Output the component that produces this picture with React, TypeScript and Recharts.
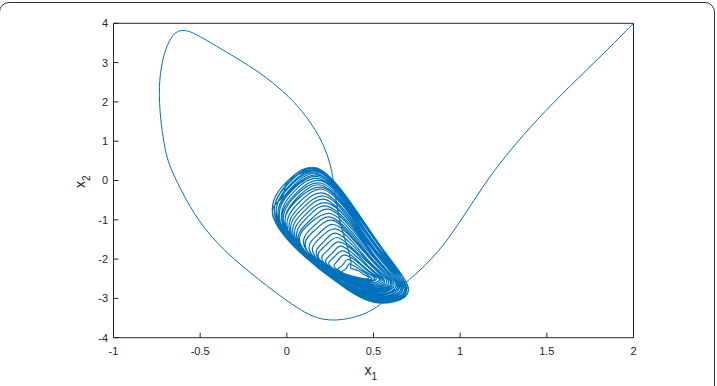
import { LineChart, Line, XAxis, YAxis } from 'recharts';

type Pt = [number, number];

// transient: from the (2, 4) corner, under the attractor and round the big loop
const approach: Pt[] = [
  [2.0, 4.0], [1.83, 3.24], [1.63, 2.39], [1.44, 1.54], [1.29, 0.78], [1.17, 0.1],
  [1.08, -0.5], [0.98, -1.18], [0.87, -1.85], [0.73, -2.45], [0.63, -2.79], [0.54, -3.17],
  [0.46, -3.38], [0.37, -3.51], [0.27, -3.57], [0.17, -3.51], [0.08, -3.3], [-0.02, -3.0],
  [-0.21, -2.36], [-0.41, -1.6], [-0.54, -0.83], [-0.62, -0.16], [-0.67, 0.3], [-0.7, 0.69],
  [-0.73, 1.54], [-0.74, 2.39], [-0.72, 3.07], [-0.68, 3.58], [-0.635, 3.81], [-0.59, 3.83],
  [-0.53, 3.75], [-0.37, 3.32], [-0.17, 2.81], [0.02, 2.13], [0.13, 1.54], [0.21, 0.95],
  [0.25, 0.44], [0.265, 0.1], [0.28, -0.4],
];

// the drop through the attractor down to its focus
const entry: Pt[] = [[0.28, -0.4], [0.31, -1.1], [0.35, -1.7], [0.37, -2.1]];

// flat loops round the focus, widening outwards
const innerLoops: Pt[][] = [
  [[0.37, -2.23], [0.41, -2.29], [0.44, -2.38], [0.47, -2.45], [0.47, -2.49], [0.45, -2.5], [0.4, -2.46], [0.32, -2.34], [0.34, -2.25]],
  [[0.36, -2.12], [0.4, -2.21], [0.45, -2.35], [0.48, -2.45], [0.49, -2.51], [0.45, -2.53], [0.39, -2.47], [0.3, -2.29], [0.32, -2.16]],
  [[0.35, -2.01], [0.4, -2.13], [0.45, -2.31], [0.5, -2.45], [0.5, -2.53], [0.46, -2.56], [0.38, -2.48], [0.28, -2.23], [0.29, -2.06]],
  [[0.33, -1.9], [0.4, -2.05], [0.46, -2.28], [0.51, -2.45], [0.51, -2.54], [0.47, -2.58], [0.38, -2.48], [0.25, -2.18], [0.27, -1.96]],
  [[0.32, -1.79], [0.39, -1.97], [0.46, -2.25], [0.52, -2.45], [0.53, -2.56], [0.47, -2.61], [0.37, -2.49], [0.23, -2.13], [0.26, -1.86]],
  [[0.31, -1.67], [0.39, -1.89], [0.47, -2.21], [0.53, -2.45], [0.54, -2.58], [0.48, -2.64], [0.37, -2.5], [0.21, -2.07], [0.24, -1.76]],
  [[0.3, -1.56], [0.39, -1.81], [0.47, -2.18], [0.54, -2.45], [0.55, -2.6], [0.48, -2.66], [0.36, -2.5], [0.19, -2.02], [0.22, -1.67]],
  [[0.29, -1.45], [0.38, -1.73], [0.48, -2.14], [0.55, -2.45], [0.56, -2.62], [0.49, -2.69], [0.36, -2.51], [0.18, -1.96], [0.21, -1.57]],
  [[0.28, -1.34], [0.38, -1.65], [0.48, -2.11], [0.56, -2.45], [0.57, -2.64], [0.49, -2.72], [0.35, -2.52], [0.16, -1.91], [0.19, -1.47]],
  [[0.28, -1.23], [0.38, -1.57], [0.48, -2.08], [0.57, -2.45], [0.58, -2.66], [0.5, -2.75], [0.35, -2.53], [0.14, -1.86], [0.18, -1.37]],
  [[0.27, -1.12], [0.38, -1.49], [0.49, -2.04], [0.58, -2.45], [0.59, -2.68], [0.5, -2.77], [0.35, -2.53], [0.12, -1.8], [0.16, -1.27]],
];

const middleLoops: Pt[][] = [
  [[0.26, -1.01], [0.37, -1.41], [0.49, -2.01], [0.58, -2.45], [0.6, -2.69], [0.5, -2.8], [0.34, -2.54], [0.11, -1.75], [0.15, -1.18]],
  [[0.25, -0.93], [0.37, -1.35], [0.49, -1.98], [0.59, -2.45], [0.6, -2.71], [0.51, -2.82], [0.34, -2.54], [0.09, -1.71], [0.13, -1.1]],
  [[0.25, -0.84], [0.37, -1.29], [0.5, -1.96], [0.6, -2.45], [0.61, -2.72], [0.51, -2.84], [0.34, -2.55], [0.08, -1.67], [0.13, -1.03]],
  [[0.24, -0.73], [0.37, -1.21], [0.5, -1.92], [0.6, -2.45], [0.61, -2.74], [0.51, -2.87], [0.33, -2.56], [0.07, -1.61], [0.12, -0.93]],
  [[0.23, -0.65], [0.37, -1.15], [0.5, -1.9], [0.61, -2.45], [0.62, -2.76], [0.52, -2.89], [0.33, -2.56], [0.06, -1.57], [0.11, -0.86]],
  [[0.23, -0.57], [0.37, -1.09], [0.5, -1.87], [0.61, -2.45], [0.63, -2.77], [0.52, -2.91], [0.33, -2.57], [0.05, -1.53], [0.1, -0.78]],
  [[0.22, -0.48], [0.36, -1.03], [0.51, -1.85], [0.62, -2.45], [0.63, -2.78], [0.52, -2.93], [0.33, -2.57], [0.04, -1.49], [0.09, -0.71]],
  [[0.22, -0.4], [0.36, -0.97], [0.51, -1.82], [0.62, -2.45], [0.64, -2.8], [0.53, -2.95], [0.32, -2.58], [0.03, -1.45], [0.08, -0.64]],
  [[0.21, -0.32], [0.36, -0.91], [0.51, -1.8], [0.63, -2.45], [0.64, -2.81], [0.53, -2.97], [0.32, -2.58], [0.02, -1.41], [0.07, -0.56]],
];

const outerLoops: Pt[][] = [
  [[0.21, -0.23], [0.36, -0.85], [0.51, -1.77], [0.63, -2.45], [0.65, -2.83], [0.53, -2.99], [0.32, -2.59], [0.01, -1.37], [0.06, -0.49]],
  [[0.21, -0.18], [0.36, -0.81], [0.51, -1.75], [0.64, -2.45], [0.65, -2.84], [0.53, -3.0], [0.32, -2.59], [0.01, -1.34], [0.06, -0.44]],
  [[0.2, -0.12], [0.36, -0.77], [0.52, -1.74], [0.64, -2.45], [0.66, -2.85], [0.53, -3.01], [0.31, -2.59], [0.0, -1.32], [0.05, -0.39]],
  [[0.2, -0.07], [0.36, -0.73], [0.52, -1.72], [0.64, -2.45], [0.66, -2.85], [0.54, -3.03], [0.31, -2.6], [-0.01, -1.29], [0.05, -0.34]],
  [[0.2, -0.01], [0.36, -0.69], [0.52, -1.7], [0.65, -2.45], [0.66, -2.86], [0.54, -3.04], [0.31, -2.6], [-0.01, -1.26], [0.04, -0.29]],
  [[0.19, 0.04], [0.36, -0.65], [0.52, -1.69], [0.65, -2.45], [0.67, -2.87], [0.54, -3.05], [0.31, -2.6], [-0.02, -1.24], [0.03, -0.25]],
  [[0.19, 0.09], [0.35, -0.62], [0.52, -1.67], [0.65, -2.45], [0.67, -2.88], [0.54, -3.06], [0.31, -2.61], [-0.03, -1.22], [0.03, -0.21]],
  [[0.19, 0.13], [0.35, -0.59], [0.52, -1.66], [0.66, -2.45], [0.67, -2.89], [0.54, -3.07], [0.31, -2.61], [-0.03, -1.19], [0.03, -0.17]],
  [[0.18, 0.17], [0.35, -0.56], [0.53, -1.65], [0.66, -2.45], [0.68, -2.89], [0.54, -3.08], [0.31, -2.61], [-0.04, -1.17], [0.02, -0.14]],
  [[0.18, 0.21], [0.35, -0.53], [0.53, -1.63], [0.66, -2.45], [0.68, -2.9], [0.55, -3.09], [0.3, -2.61], [-0.04, -1.15], [0.02, -0.1]],
  [[0.18, 0.24], [0.35, -0.51], [0.53, -1.63], [0.66, -2.45], [0.68, -2.91], [0.55, -3.1], [0.3, -2.62], [-0.05, -1.14], [0.01, -0.07]],
  [[0.17, 0.26], [0.35, -0.49], [0.53, -1.62], [0.67, -2.45], [0.69, -2.91], [0.55, -3.11], [0.3, -2.62], [-0.05, -1.13], [0.01, -0.05]],
  [[0.17, 0.29], [0.35, -0.47], [0.53, -1.61], [0.67, -2.45], [0.69, -2.92], [0.55, -3.11], [0.3, -2.62], [-0.06, -1.11], [0.0, -0.03]],
];

// last turn, ending in the short stub at the top left
const lastLoop: Pt[] = [
  [0.17, 0.32], [0.35, -0.45], [0.53, -1.6], [0.67, -2.45], [0.69, -2.92], [0.55, -3.12],
  [0.3, -2.62], [-0.06, -1.1], [-0.03, -0.45], [0.0, -0.04], [0.13, 0.27],
];

const xTicks = [-1, -0.5, 0, 0.5, 1, 1.5, 2];
const yTicks = [-4, -3, -2, -1, 0, 1, 2, 3, 4];

const attractor = [...entry, ...innerLoops.flat(), ...middleLoops.flat(), ...outerLoops.flat(), ...lastLoop];
const data = [
  ...approach.map(([x, a]) => ({ x, a })),
  ...attractor.map(([x, y]) => ({ x, y })),
];

const ink = '#262626';
const blue = '#0072BD';
const font = '"Liberation Sans", Arial, Helvetica, sans-serif';
const tickStyle = { fontSize: 11, fill: ink, fontFamily: font };

const XLabel = ({ viewBox }: any) => (
  <text x={viewBox.x + viewBox.width / 2 - 9} y={375} fill={ink} fontFamily={font} fontSize={14}>
    x
    <tspan dy={5} fontSize={10}>1</tspan>
  </text>
);

const YLabel = () => (
  <text transform="translate(85, 188) rotate(-90)" fill={ink} fontFamily={font} fontSize={14}>
    x
    <tspan dy={5} fontSize={10}>2</tspan>
  </text>
);

export default function App() {
  return (
    <div style={{ position: 'absolute', left: 0, top: 0, width: 717, height: 386, overflow: 'hidden', background: '#fff' }}>
      <div
        style={{
          position: 'absolute',
          left: -1,
          top: 2,
          width: 716,
          height: 420,
          border: '1px solid #333',
          borderRadius: 10,
          boxSizing: 'border-box',
        }}
      />
      <LineChart
        width={717}
        height={386}
        data={data}
        margin={{ top: 22.3, right: 82.5, bottom: 18.3, left: 73.5 }}
        style={{ position: 'absolute', left: 0, top: 0 }}
      >
        <XAxis
          xAxisId="b"
          type="number"
          dataKey="x"
          domain={[-1, 2]}
          ticks={xTicks}
          allowDataOverflow
          height={30}
          stroke={ink}
          tickSize={-5}
          tickMargin={14}
          tick={tickStyle}
          label={<XLabel />}
        />
        <XAxis
          xAxisId="t"
          orientation="top"
          type="number"
          dataKey="x"
          domain={[-1, 2]}
          ticks={xTicks}
          allowDataOverflow
          height={1}
          stroke={ink}
          tickSize={-5}
          tick={false}
        />
        <YAxis
          yAxisId="l"
          type="number"
          domain={[-4, 4]}
          ticks={yTicks}
          allowDataOverflow
          width={40}
          stroke={ink}
          tickSize={-5}
          tickMargin={10.5}
          tick={tickStyle}
          label={<YLabel />}
        />
        <YAxis
          yAxisId="r"
          orientation="right"
          type="number"
          domain={[-4, 4]}
          ticks={yTicks}
          allowDataOverflow
          width={1}
          stroke={ink}
          tickSize={-5}
          tick={false}
        />
        <Line
          xAxisId="b"
          yAxisId="l"
          dataKey="a"
          type="basis"
          dot={false}
          stroke={blue}
          strokeWidth={1}
          isAnimationActive={false}
        />
        <Line
          xAxisId="b"
          yAxisId="l"
          dataKey="y"
          type="natural"
          dot={false}
          stroke={blue}
          strokeWidth={1.2}
          isAnimationActive={false}
        />
      </LineChart>
    </div>
  );
}
